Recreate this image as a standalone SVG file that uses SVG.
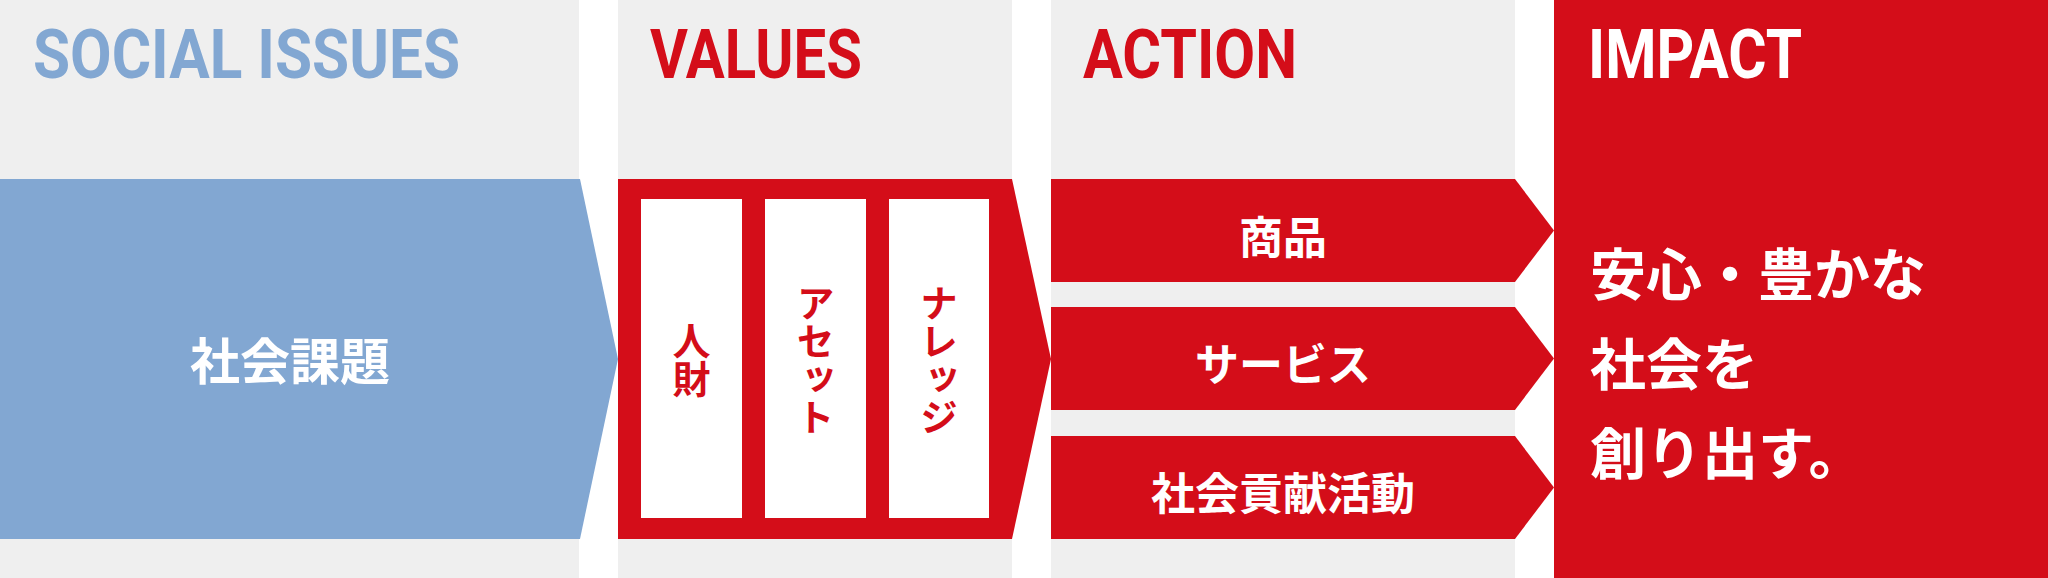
<svg xmlns="http://www.w3.org/2000/svg" width="2048" height="578" viewBox="0 0 2048 578">
<style>
.bg{fill:#efefef}
.red{fill:#d40d19}
.blue{fill:#82a7d2}
.white{fill:#ffffff}
.hd{font-family:Roboto,"Liberation Sans",sans-serif;font-weight:700;font-size:68px}
.jp{font-family:"Noto Sans CJK JP","Noto Sans",sans-serif;font-weight:700}
.vt{font-family:"Noto Sans CJK JP","Noto Sans",sans-serif;font-weight:700;font-size:38px;writing-mode:vertical-rl;fill:#d40d19}
</style>
<rect width="2048" height="578" fill="#ffffff"/>
<g id="social-issues">
<rect class="bg" x="0" y="0" width="579" height="578"/>
<text class="hd" x="33" y="78" fill="#82a7d2" textLength="427" lengthAdjust="spacingAndGlyphs">SOCIAL ISSUES</text>
</g>
<g id="values-col">
<rect class="bg" x="618" y="0" width="394" height="578"/>
<text class="hd" x="650" y="78" fill="#d40d19" textLength="212" lengthAdjust="spacingAndGlyphs">VALUES</text>
</g>
<g id="action-col">
<rect class="bg" x="1051" y="0" width="464" height="578"/>
<text class="hd" x="1083" y="78" fill="#d40d19" textLength="214" lengthAdjust="spacingAndGlyphs">ACTION</text>
</g>
<g id="impact">
<rect class="red" x="1554" y="0" width="494" height="578"/>
<text class="hd" x="1588" y="78" fill="#ffffff" textLength="214" lengthAdjust="spacingAndGlyphs">IMPACT</text>
<text class="jp" font-size="56" fill="#ffffff"><tspan x="1590" y="295">安心・豊かな</tspan><tspan x="1590" y="385">社会を</tspan><tspan x="1590" y="474">創り出す。</tspan></text>
</g>
<g id="connectors">
<g id="social-arrow">
<polygon class="blue" points="0,179 580,179 618,359 580,539 0,539"/>
<text class="jp" font-size="50" fill="#ffffff" x="290" y="380" text-anchor="middle">社会課題</text>
</g>
<g id="values">
<polygon class="red" points="618,179 1012,179 1051,359 1012,539 618,539"/>
<rect class="white" x="641" y="199" width="101" height="319"/>
<rect class="white" x="765" y="199" width="101" height="319"/>
<rect class="white" x="889" y="199" width="100" height="319"/>
<text class="vt" x="691.5" y="360" text-anchor="middle">人財</text>
<text class="vt" x="815.5" y="360" text-anchor="middle">アセット</text>
<text class="vt" x="939" y="360" text-anchor="middle">ナレッジ</text>
</g>
<g id="action-products">
<polygon class="red" points="1051,179 1515,179 1554,230.5 1515,282 1051,282"/>
<text class="jp" font-size="44" fill="#ffffff" x="1283" y="254" text-anchor="middle">商品</text>
</g>
<g id="action-services">
<polygon class="red" points="1051,307 1515,307 1554,358.5 1515,410 1051,410"/>
<text class="jp" font-size="44" fill="#ffffff" x="1283" y="381" text-anchor="middle">サービス</text>
</g>
<g id="action-csr">
<polygon class="red" points="1051,436 1515,436 1554,487.5 1515,539 1051,539"/>
<text class="jp" font-size="44" fill="#ffffff" x="1283" y="510" text-anchor="middle">社会貢献活動</text>
</g>
</g>
</svg>
